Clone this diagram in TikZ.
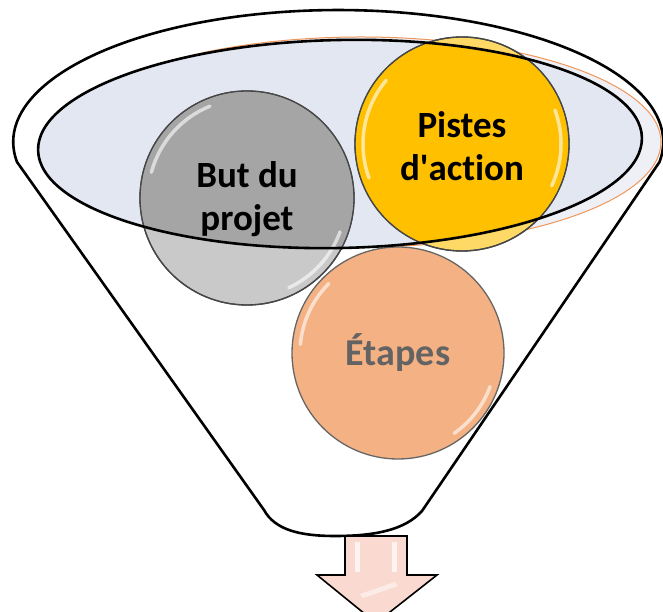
\documentclass[tikz,border=0pt]{standalone}
\usepackage{fontspec}
\setmainfont{Carlito}[Ligatures=NoCommon]
\definecolor{grayDark}{HTML}{A5A5A5}
\definecolor{grayLight}{HTML}{C9C9C9}
\definecolor{goldDark}{HTML}{FFC000}
\definecolor{goldLight}{HTML}{FFD966}
\definecolor{peach}{HTML}{F4B183}
\definecolor{innerFill}{HTML}{E3E7F2}
\definecolor{outerFill}{HTML}{EFF0F6}
\definecolor{rimOrange}{HTML}{F0965A}
\definecolor{arrowFill}{HTML}{FADAD0}
\definecolor{labelGray}{HTML}{636363}
\begin{document}
\begin{tikzpicture}[x=1pt,y=1pt,
  rim/.style={draw=black,line width=2.6pt,line join=round},
  ball/.style={circle,minimum size=214pt,inner sep=0pt,draw=black!72,line width=1.3pt},
  lbl/.style={font=\bfseries\fontsize{37}{43}\selectfont,align=center,inner sep=0pt},
  gloss/.style={white,line width=3.5pt,line cap=round,opacity=0.6},
  innerell/.style={rotate around={1.2:(340,468)}}]
\clip (0,0) rectangle (663,612);
% funnel body
\path[rim,fill=white] (17,450)
  arc[start angle=188.7,end angle=-8.7,x radius=325pt,y radius=132pt]
  -- (422,101) .. controls (405,82) and (375,76) .. (335,76)
  .. controls (300,76) and (275,82) .. (264,102) -- cycle;
% orange rim ellipse
\path[fill=outerFill,draw=rimOrange,line width=1pt] (361,470) ellipse[x radius=300pt,y radius=105pt];
% inner ellipse fill
\path[fill=innerFill,innerell] (340,468) ellipse[x radius=302pt,y radius=104pt];
% circles (light part outside the ellipse)
\node[ball,fill=grayLight] (but) at (247,414) {};
\node[ball,fill=goldLight] (pistes) at (462,468) {};
\begin{scope}
  \clip[innerell] (340,468) ellipse[x radius=302pt,y radius=104pt];
  \fill[grayDark] (but.center) circle[radius=106.3pt];
  \fill[goldDark] (pistes.center) circle[radius=106.3pt];
\end{scope}
\draw[black!72,line width=1.3pt] (but.center) circle[radius=107pt];
\draw[black!72,line width=1.3pt] (pistes.center) circle[radius=107pt];
\draw[gloss] (but.center) ++(112:99pt) arc[start angle=112,end angle=165,radius=99pt];
\draw[gloss] (but.center) ++(-20:99pt) arc[start angle=-20,end angle=-65,radius=99pt];
\draw[gloss] (pistes.center) ++(140:99pt) arc[start angle=140,end angle=200,radius=99pt];
\draw[gloss] (pistes.center) ++(-25:99pt) arc[start angle=-25,end angle=20,radius=99pt];
% Etapes circle
\node[ball,minimum size=212pt,fill=peach,draw=black!60] (etapes) at (398,259) {};
\draw[gloss] (etapes.center) ++(135:98pt) arc[start angle=135,end angle=175,radius=98pt];
\draw[gloss] (etapes.center) ++(-20:98pt) arc[start angle=-20,end angle=-55,radius=98pt];
% inner ellipse stroke
\draw[black,line width=2.6pt,innerell] (340,468) ellipse[x radius=302pt,y radius=104pt];
% labels
\node[lbl] (butlbl) at ([yshift=-1pt]but.center) {But du\\projet};
\node[lbl] (pisteslbl) at ([yshift=-2pt]pistes.center) {Pistes\\d\textquotesingle action};
\node[lbl,text=labelGray,font=\bfseries\fontsize{38}{43}\selectfont,anchor=base] (etapeslbl) at (398,246) {Étapes};
% output arrow
\path[draw=black,line width=1.6pt,fill=arrowFill,line join=miter]
  (345,76) -- (407,76) -- (407,37) -- (437,37) -- (376,-11) -- (317,37) -- (345,37) -- cycle;
\fill[white,opacity=0.7] (355,40) rectangle (360,70);
\fill[white,opacity=0.7] (392,40) rectangle (397,70);
\fill[white,opacity=0.5] (360,18) -- (395,30) -- (398,26) -- (363,14) -- cycle;
\end{tikzpicture}
\end{document}
